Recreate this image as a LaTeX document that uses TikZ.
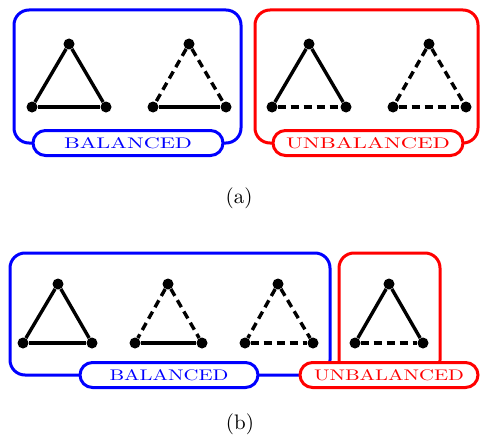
\documentclass[tikz,border=0pt]{standalone}
\usepackage{graphicx}
\newcommand{\pilltext}[2]{\resizebox{#1pt}{11pt}{#2}}
\newcommand{\captxt}[1]{\scalebox{2.1}{#1}}
\begin{document}
\begin{tikzpicture}[x=1pt,y=-1pt,
  vtx/.style={circle,fill=black,inner sep=0pt,minimum size=11pt},
  edge/.style={line width=3.4pt,black},
  dedge/.style={line width=3.4pt,black,dash pattern=on 8pt off 5pt},
  bbox/.style={line width=3pt,rounded corners=15pt},
  pill/.style={draw,line width=3pt,fill=white,rounded corners=12.5pt,minimum height=25pt,inner sep=0pt},
  bpill/.style={pill,draw=blue,text=blue},
  rpill/.style={pill,draw=red,text=red},
  captext/.style={inner sep=0pt}]
\useasboundingbox (0,0) rectangle (481,444);
% ---------- (a) ----------
\draw[bbox,blue] (14,10) rectangle (241,143);
\draw[bbox,red] (255,10) rectangle (478,143);
\node[bpill,minimum width=190pt] (pa1) at (128,143) {\pilltext{128}{BALANCED}};
\node[rpill,minimum width=190pt] (pa2) at (368,143) {\pilltext{164}{UNBALANCED}};
% triangle 1: all solid
\node[vtx] (a1t) at (69,44) {};
\node[vtx] (a1l) at (32,107) {};
\node[vtx] (a1r) at (106,107) {};
\draw[edge] (a1t) -- (a1l);
\draw[edge] (a1t) -- (a1r);
\draw[edge] (a1l) -- (a1r);
% triangle 2
\node[vtx] (a2t) at (189,44) {};
\node[vtx] (a2l) at (153,107) {};
\node[vtx] (a2r) at (226,107) {};
\draw[dedge] (a2t) -- (a2l);
\draw[dedge] (a2t) -- (a2r);
\draw[edge] (a2l) -- (a2r);
% triangle 3
\node[vtx] (a3t) at (309,44) {};
\node[vtx] (a3l) at (272,107) {};
\node[vtx] (a3r) at (346,107) {};
\draw[edge] (a3t) -- (a3l);
\draw[edge] (a3t) -- (a3r);
\draw[dedge] (a3l) -- (a3r);
% triangle 4
\node[vtx] (a4t) at (429,44) {};
\node[vtx] (a4l) at (393,107) {};
\node[vtx] (a4r) at (466,107) {};
\draw[dedge] (a4t) -- (a4l);
\draw[dedge] (a4t) -- (a4r);
\draw[dedge] (a4l) -- (a4r);
\node[captext] (capa) at (239,198) {\captxt{(a)}};
% ---------- (b) ----------
\draw[bbox,blue] (10,253) rectangle (330,375);
\draw[bbox,red] (339,253) rectangle (440,375);
\node[bpill,minimum width=178pt] (pb1) at (169,375) {\pilltext{119}{BALANCED}};
\node[rpill,minimum width=178pt] (pb2) at (389,375) {\pilltext{150}{UNBALANCED}};
% triangle 1
\node[vtx] (b1t) at (58,284) {};
\node[vtx] (b1l) at (23,343) {};
\node[vtx] (b1r) at (92,343) {};
\draw[edge] (b1t) -- (b1l);
\draw[edge] (b1t) -- (b1r);
\draw[edge] (b1l) -- (b1r);
% triangle 2
\node[vtx] (b2t) at (168,284) {};
\node[vtx] (b2l) at (135,343) {};
\node[vtx] (b2r) at (202,343) {};
\draw[dedge] (b2t) -- (b2l);
\draw[dedge] (b2t) -- (b2r);
\draw[edge] (b2l) -- (b2r);
% triangle 3
\node[vtx] (b3t) at (278,284) {};
\node[vtx] (b3l) at (245,343) {};
\node[vtx] (b3r) at (313,343) {};
\draw[dedge] (b3t) -- (b3l);
\draw[dedge] (b3t) -- (b3r);
\draw[dedge] (b3l) -- (b3r);
% triangle 4
\node[vtx] (b4t) at (389,284) {};
\node[vtx] (b4l) at (355,343) {};
\node[vtx] (b4r) at (423,343) {};
\draw[edge] (b4t) -- (b4l);
\draw[edge] (b4t) -- (b4r);
\draw[dedge] (b4l) -- (b4r);
\node[captext] (capb) at (240,424) {\captxt{(b)}};
\end{tikzpicture}
\end{document}
